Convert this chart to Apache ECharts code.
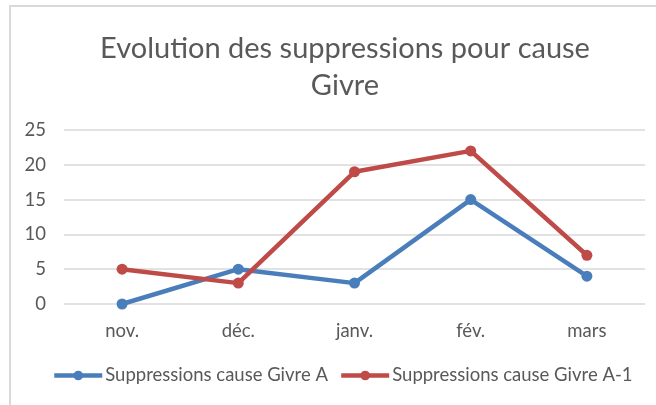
<!DOCTYPE html>
<html>
<head>
<meta charset="utf-8">
<script src="https://cdn.jsdelivr.net/npm/echarts@6/dist/echarts.min.js"></script>
<style>
	html, body {margin: 0; padding: 0; background: #fff;}
	#frame {position: absolute; left: 9px; top: 5px; width: 660px; height: 420px; border-left: 2px solid #d9d9d9; border-top: 2px solid #d9d9d9;}
	#container {position: absolute; left: 0; top: 0; width: 656px; height: 405px;}
</style>
</head>
<body>
<div id="frame"></div>
<div id="container"></div>
<script>
const Months = ['nov.', 'déc.', 'janv.', 'fév.', 'mars'];
const GivreA = [0, 5, 3, 15, 4];
const GivreA1 = [5, 3, 19, 22, 7];
const SeriesNames = ['Suppressions cause Givre A', 'Suppressions cause Givre A-1'];

const font = 'Lato, "Open Sans", sans-serif';

function line(name, data, color) {
	return {
		name: name, type: 'line', data: data, symbol: 'circle', symbolSize: 11,
		lineStyle: {width: 4.5, color: color}, itemStyle: {color: color}
	};
}

const option = {
	animation: false,
	title: {
		text: 'Evolution des suppressions pour cause\nGivre', left: 340, textAlign: 'center', top: 25,
		textStyle: {color: '#595959', fontFamily: font, fontWeight: 'normal', fontSize: 29, lineHeight: 37}
	},
	legend: {
		data: SeriesNames, bottom: 15, left: 47, itemWidth: 48, itemHeight: 12, itemGap: 11,
		lineStyle: {width: 4.5},
		textStyle: {color: '#595959', fontFamily: font, fontSize: 18.5, padding: [0, 0, 0, -2]}
	},
	grid: {left: 64, right: 11, top: 130, bottom: 101, containLabel: false},
	xAxis: {
		type: 'category', data: Months, boundaryGap: true,
		axisLine: {show: false}, axisTick: {show: false},
		axisLabel: {color: '#595959', fontFamily: font, fontSize: 18.5, margin: 18}
	},
	yAxis: {
		type: 'value', min: 0, max: 25, interval: 5,
		axisLine: {show: false}, axisTick: {show: false},
		axisLabel: {color: '#595959', fontFamily: font, fontSize: 18.5, margin: 18},
		splitLine: {lineStyle: {color: '#d9d9d9', width: 1.5}}
	},
	series: [
		line(SeriesNames[0], GivreA, '#4a7ebb'),
		line(SeriesNames[1], GivreA1, '#be4b48')
	]
};
echarts.init(document.getElementById('container')).setOption(option);
</script>
</body>
</html>
